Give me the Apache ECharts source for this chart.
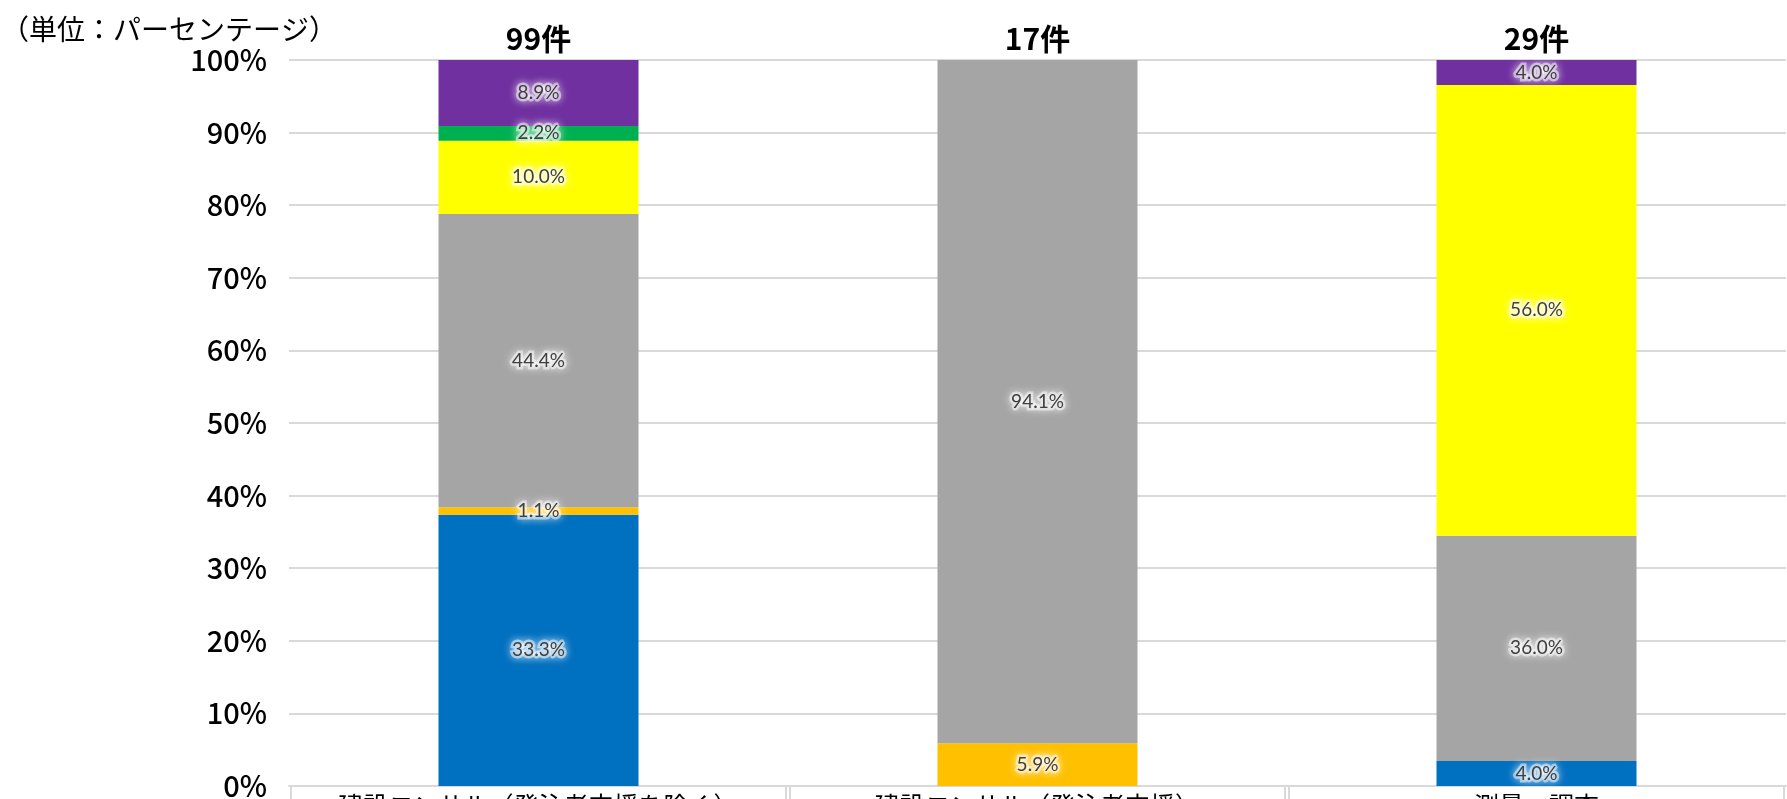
<!DOCTYPE html>
<html>
<head>
<meta charset="utf-8">
<title>chart</title>
<script src="https://cdn.jsdelivr.net/npm/echarts@6/dist/echarts.min.js"></script>
<style>
html, body { margin: 0; padding: 0; background: #fff; }
#charts { width: 1787px; height: 799px; }
</style>
</head>
<body>
<div id="charts"></div>
<script>
// カテゴリ
var categories = ["建設コンサル（発注者支援を除く）", "建設コンサル（発注者支援）", "測量・調査"];
var totalLabels = ["99件", "17件", "29件"];
var yTicks = [0, 10, 20, 30, 40, 50, 60, 70, 80, 90, 100];

// 件数（下から順に積み上げ）
var blueCounts   = [37, 0, 1];
var orangeCounts = [1, 1, 0];
var grayCounts   = [40, 16, 9];
var yellowCounts = [10, 0, 18];
var greenCounts  = [2, 0, 0];
var purpleCounts = [9, 0, 1];

// データラベル（図に書かれている値）
var blueLabels   = ["33.3%", "", "4.0%"];
var orangeLabels = ["1.1%", "5.9%", ""];
var grayLabels   = ["44.4%", "94.1%", "36.0%"];
var yellowLabels = ["10.0%", "", "56.0%"];
var greenLabels  = ["2.2%", "", ""];
var purpleLabels = ["8.9%", "", "4.0%"];

var colors = ["#0070C0", "#FFC000", "#A5A5A5", "#FFFF00", "#00B050", "#7030A0"];
var countList = [blueCounts, orangeCounts, grayCounts, yellowCounts, greenCounts, purpleCounts];
var labelList = [blueLabels, orangeLabels, grayLabels, yellowLabels, greenLabels, purpleLabels];

// 100%積み上げ用に割合へ
var totals = categories.map(function (c, i) {
    return countList.reduce(function (s, arr) { return s + arr[i]; }, 0);
});

var series = countList.map(function (arr, k) {
    return {
        type: "bar",
        stack: "total",
        barWidth: 200,
        itemStyle: { color: colors[k] },
        label: {
            show: true,
            position: "inside",
            color: "#404040",
            fontFamily: "Lato",
            fontSize: 19,
            textBorderColor: "rgba(255,255,255,0.5)",
            textBorderWidth: 5,
            textShadowColor: "#fff",
            textShadowBlur: 8,
            formatter: function (p) { return labelList[k][p.dataIndex]; }
        },
        data: arr.map(function (v, i) { return v ? v / totals[i] * 100 : null; })
    };
});

var chartsOption = {
    animation: false,
    title: {
        text: "（単位：パーセンテージ）",
        left: -4,
        top: 10,
        textStyle: { fontFamily: "Noto Sans CJK JP", fontWeight: "normal", fontSize: 28, color: "#000" }
    },
    grid: { left: 289, right: 1, top: 60, bottom: 13, containLabel: false, outerBoundsMode: "none" },
    xAxis: [
        {
            type: "category",
            data: categories,
            axisLine: { lineStyle: { color: "#d9d9d9", width: 2 } },
            axisTick: { show: false },
            axisLabel: {
                interval: 0,
                margin: 0,
                width: 495,
                height: 40,
                align: "center",
                verticalAlign: "top",
                borderColor: "#d9d9d9",
                borderWidth: 2,
                padding: [7, 0, 0, 0],
                fontFamily: "Noto Sans CJK JP",
                fontSize: 25,
                color: "#000"
            }
        },
        {
            type: "category",
            position: "top",
            data: totalLabels,
            axisLine: { show: false },
            axisTick: { show: false },
            axisLabel: {
                margin: 6,
                fontFamily: "Noto Sans CJK JP",
                fontWeight: "bold",
                fontSize: 30,
                color: "#000"
            }
        }
    ],
    yAxis: {
        type: "value",
        min: yTicks[0],
        max: yTicks[yTicks.length - 1],
        interval: 10,
        axisLine: { show: false },
        axisTick: { show: false },
        axisLabel: {
            margin: 22,
            formatter: "{value}%",
            fontFamily: "Noto Sans CJK JP",
            fontWeight: 500,
            fontSize: 29,
            color: "#000"
        },
        splitLine: { lineStyle: { color: "#d9d9d9", width: 2 } }
    },
    series: series
};

var myChart = echarts.init(document.getElementById("charts"));
myChart.setOption(chartsOption);
</script>
</body>
</html>
